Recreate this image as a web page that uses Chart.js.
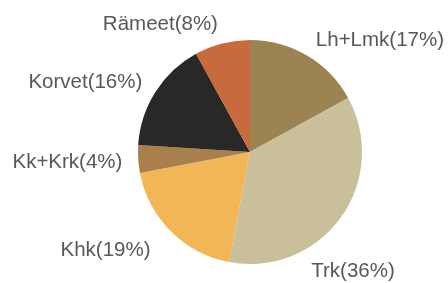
<!DOCTYPE html>
<html>
<head>
<meta charset="utf-8">
<script src="https://cdn.jsdelivr.net/npm/chart.js@4"></script>
<style>
  html, body { margin: 0; padding: 0; background: #fff; }
  #wrap { width: 448px; height: 283px; }
</style>
</head>
<body>
<div id="wrap"><canvas id="chartMetsat"></canvas></div>
<script>
const kategoriat = ['Lh+Lmk', 'Trk', 'Khk', 'Kk+Krk', 'Korvet', 'Rämeet'];
const osuudet = [17, 36, 19, 4, 16, 8];
const varit = ['#9b8452', '#c9bf9a', '#f3b657', '#a9804c', '#2a2727', '#c76a3e'];
// label anchors, relative to pie centre in units of radius
const nimiPaikat = [[1.16, -1.0], [0.92, 1.07], [-1.29, 0.88], [-1.63, 0.09], [-1.47, -0.62], [-0.80, -1.14]];

const nimiPlugin = {
    id: 'nimet',
    afterDraw(chart) {
        const ctx = chart.ctx;
        const arcs = chart.getDatasetMeta(0).data;
        ctx.save();
        ctx.font = '20.5px "Liberation Sans", Arial, sans-serif';
        ctx.fillStyle = '#585858';
        ctx.textAlign = 'center';
        ctx.textBaseline = 'middle';
        arcs.forEach((arc, i) => {
            const r = arc.outerRadius;
            const x = arc.x + nimiPaikat[i][0] * r;
            const y = arc.y + nimiPaikat[i][1] * r;
            ctx.fillText(kategoriat[i] + '(' + osuudet[i] + '%)', x, y);
        });
        ctx.restore();
    }
};

new Chart(document.getElementById('chartMetsat'), {
    type: 'pie',
    data: {
        labels: kategoriat,
        datasets: [{
            data: osuudet,
            backgroundColor: varit,
            borderWidth: 0
        }]
    },
    options: {
        responsive: true,
        maintainAspectRatio: false,
        animation: false,
        layout: { padding: { left: 138, right: 86, top: 40, bottom: 19 } },
        plugins: {
            legend: { display: false },
            tooltip: { enabled: false }
        }
    },
    plugins: [nimiPlugin]
});
</script>
</body>
</html>
